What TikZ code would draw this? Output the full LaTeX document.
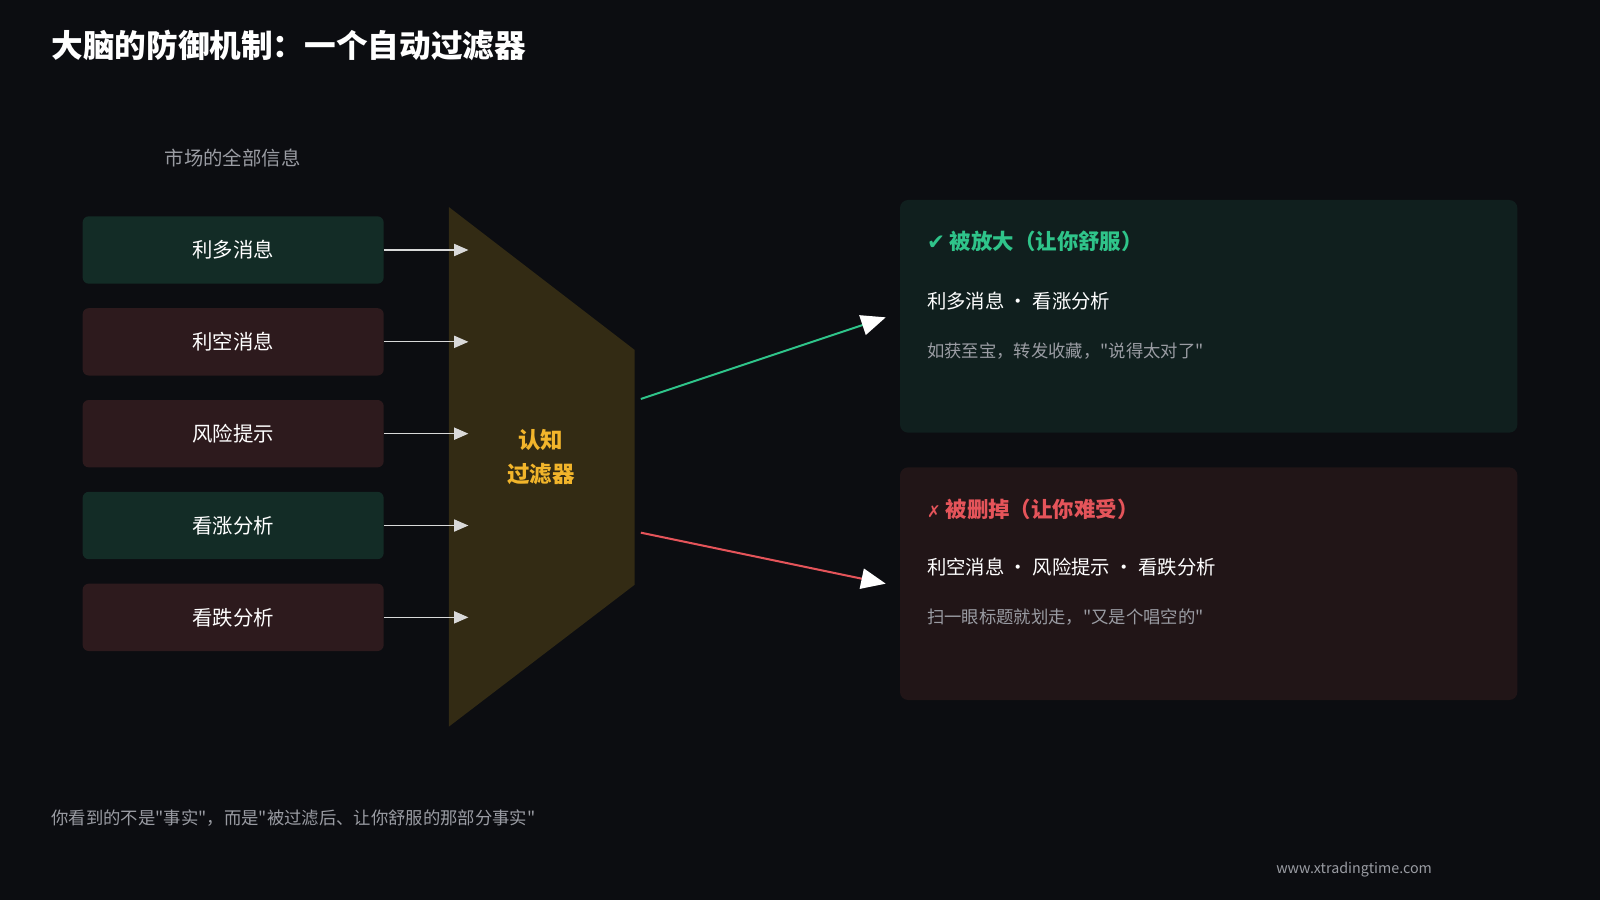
\documentclass[tikz,border=0pt]{standalone}
\usepackage{fontspec}
\setmainfont{Noto Sans CJK SC}
\newfontfamily\symf{DejaVu Sans}
\newfontfamily\qf{Noto Sans CJK SC}
\usetikzlibrary{arrows.meta}
\definecolor{bg}{HTML}{0C0D11}
\definecolor{gbox}{HTML}{132C26}
\definecolor{rbox}{HTML}{2D1A1D}
\definecolor{gpan}{HTML}{101F1E}
\definecolor{rpan}{HTML}{211517}
\definecolor{filt}{HTML}{332B14}
\definecolor{yel}{HTML}{F2B52B}
\definecolor{grn}{HTML}{2FC48A}
\definecolor{red}{HTML}{E5545A}
\definecolor{gry}{HTML}{9A9CA3}
\newcommand{\q}{{\qf"}}
\begin{document}
\begin{tikzpicture}[x=1pt,y=-1pt,
  box/.style={rounded corners=6pt,minimum width=295pt,minimum height=66pt,text=white,font=\fontsize{20}{24}\selectfont},
  arr/.style={draw=white!85!black,line width=1pt,-{Triangle[length=14pt,width=12pt]}},
  big/.style={line width=2pt,-{Triangle[length=24pt,width=20pt,fill=white,color=white]}}]
\fill[bg] (0,0) rectangle (1568,882);
\node[anchor=west,text=white,font=\bfseries\fontsize{31}{34}\selectfont] (title) at (47,45) {大脑的防御机制：一个自动过滤器};
\node[text=gry,font=\fontsize{19}{22}\selectfont] (src) at (228,155) {市场的全部信息};
\fill[filt] (440,203) -- (622,343) -- (622,573) -- (440,712) -- cycle;
\node[text=yel,font=\bfseries\fontsize{22}{33}\selectfont,align=center] (f) at (530,448) {认知\\过滤器};
\foreach \t/\c/\y [count=\i] in {利多消息/gbox/245,利空消息/rbox/335,风险提示/rbox/425,看涨分析/gbox/515,看跌分析/rbox/605}{
  \node[box,fill=\c] (b\i) at (228.5,\y) {\t};
  \coordinate (e\i) at (459,\y);
  \draw[arr] (b\i.east) -- (e\i);
}
\node[fill=gpan,rounded corners=8pt,minimum width=605pt,minimum height=228pt] (gp) at (1184.5,310) {};
\node[fill=rpan,rounded corners=8pt,minimum width=605pt,minimum height=228pt] (rp) at (1184.5,572) {};
\node[anchor=west,text=grn,font=\bfseries\fontsize{21}{24}\selectfont] (gt) at (905,237) {{\symf ✔} 被放大（让你舒服）};
\node[anchor=west,text=white,font=\fontsize{19}{22}\selectfont] (gs) at (905,295) {利多消息 · 看涨分析};
\node[anchor=west,text=gry,font=\fontsize{17}{20}\selectfont] (gg) at (905,344) {如获至宝，转发收藏，\q 说得太对了\q};
\node[anchor=west,text=red,font=\bfseries\fontsize{21}{24}\selectfont] (rt) at (905,499) {{\symf\fontsize{16}{20}\selectfont ✗} 被删掉（让你难受）};
\node[anchor=west,text=white,font=\fontsize{19}{22}\selectfont] (rs) at (905,556) {利空消息 · 风险提示 · 看跌分析};
\node[anchor=west,text=gry,font=\fontsize{17}{20}\selectfont] (rg) at (905,605) {扫一眼标题就划走，\q 又是个唱空的\q};
\coordinate (gs0) at (628,391); \coordinate (ge0) at (868,311);
\coordinate (rs0) at (628,522); \coordinate (re0) at (868,572);
\draw[big,draw=grn] (gs0) -- (ge0);
\draw[big,draw=red] (rs0) -- (re0);
\node[anchor=west,text=gry,font=\fontsize{17}{20}\selectfont] (foot) at (47,802) {你看到的不是\q 事实\q ，而是\q 被过滤后、让你舒服的那部分事实\q};
\node[text=gry,font=\fontsize{14}{16}\selectfont] (url) at (1327,852) {www.xtradingtime.com};
\end{tikzpicture}
\end{document}
